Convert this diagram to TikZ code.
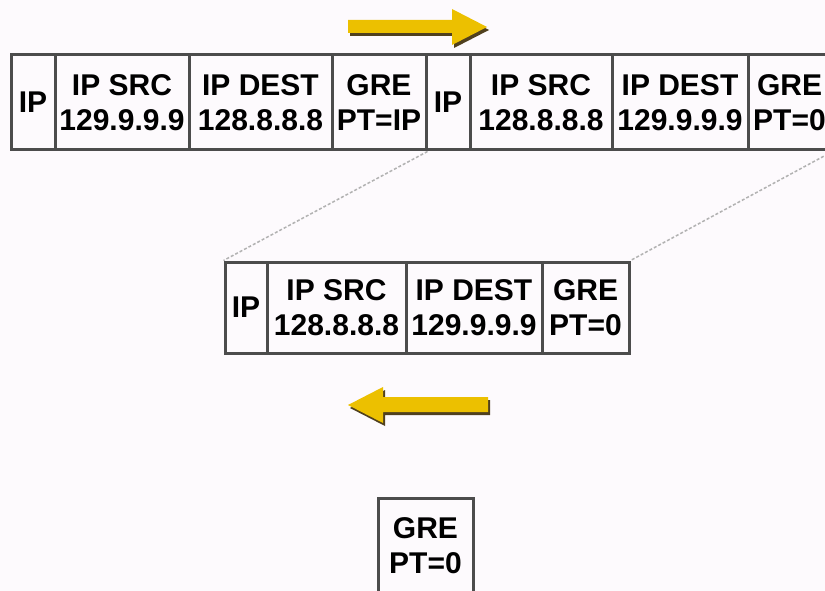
\documentclass[tikz,border=0pt]{standalone}
\usepackage{fontspec}
\setmainfont{Liberation Sans}
\definecolor{bgpink}{RGB}{253,250,253}
\definecolor{arrowyellow}{RGB}{236,192,0}
\definecolor{arrowshadow}{RGB}{80,64,30}
\begin{document}
\begin{tikzpicture}[x=1pt,y=-1pt]
    \tikzstyle{cell}=[draw=black!70, line width=3pt, minimum height=95pt, inner sep=0pt, align=center, font=\fontsize{30}{35}\selectfont\bfseries]
    \tikzstyle{zoomline}=[gray!60, line width=1.5pt, dash pattern=on 3pt off 2pt]
    \tikzstyle{flow}=[fill=arrowyellow]
    \tikzstyle{flowshadow}=[fill=arrowshadow]

    \useasboundingbox[fill=bgpink] (0,0) rectangle (825,591);
    \clip (0,0) rectangle (825,591);

    % arrow to the right
    \fill[flowshadow, shift={(2,3)}] (348,20) -- (452,20) -- (452,9) -- (487,27) -- (452,45) -- (452,33) -- (348,33) -- cycle;
    \fill[flow] (348,20) -- (452,20) -- (452,9) -- (487,27) -- (452,45) -- (452,33) -- (348,33) -- cycle;

    % outer packet
    \node[cell, minimum width=44pt] (t1) at (33,102.5) {IP};
    \node[cell, minimum width=134pt] (t2) at (122,102.5) {IP SRC\\129.9.9.9};
    \node[cell, minimum width=143pt] (t3) at (260.5,102.5) {IP DEST\\128.8.8.8};
    \node[cell, minimum width=94pt] (t4) at (379,102.5) {GRE\\PT=IP};
    \node[cell, minimum width=44pt] (t5) at (448,102.5) {IP};
    \node[cell, minimum width=142pt] (t6) at (541,102.5) {IP SRC\\128.8.8.8};
    \node[cell, minimum width=136pt] (t7) at (680,102.5) {IP DEST\\129.9.9.9};
    \node[cell, minimum width=83pt] (t8) at (789.5,102.5) {GRE\\PT=0};

    % inner packet
    \node[cell, minimum height=91pt, minimum width=42pt] (m1) at (246,307.5) {IP};
    \node[cell, minimum height=91pt, minimum width=139pt] (m2) at (336.5,307.5) {IP SRC\\128.8.8.8};
    \node[cell, minimum height=91pt, minimum width=136pt] (m3) at (474,307.5) {IP DEST\\129.9.9.9};
    \node[cell, minimum height=91pt, minimum width=87pt] (m4) at (585.5,307.5) {GRE\\PT=0};

    \draw[zoomline] (t4.south east) -- (m1.north west);
    \draw[zoomline] (t8.south east) -- (m4.north east);

    % arrow to the left
    \fill[flowshadow, shift={(2,3)}] (348,405) -- (383,387) -- (383,397) -- (488,397) -- (488,412) -- (383,412) -- (383,423) -- cycle;
    \fill[flow] (348,405) -- (383,387) -- (383,397) -- (488,397) -- (488,412) -- (383,412) -- (383,423) -- cycle;

    \node[cell, minimum width=95pt] (g) at (425.5,545.5) {GRE\\PT=0};
  \end{tikzpicture}
\end{document}
